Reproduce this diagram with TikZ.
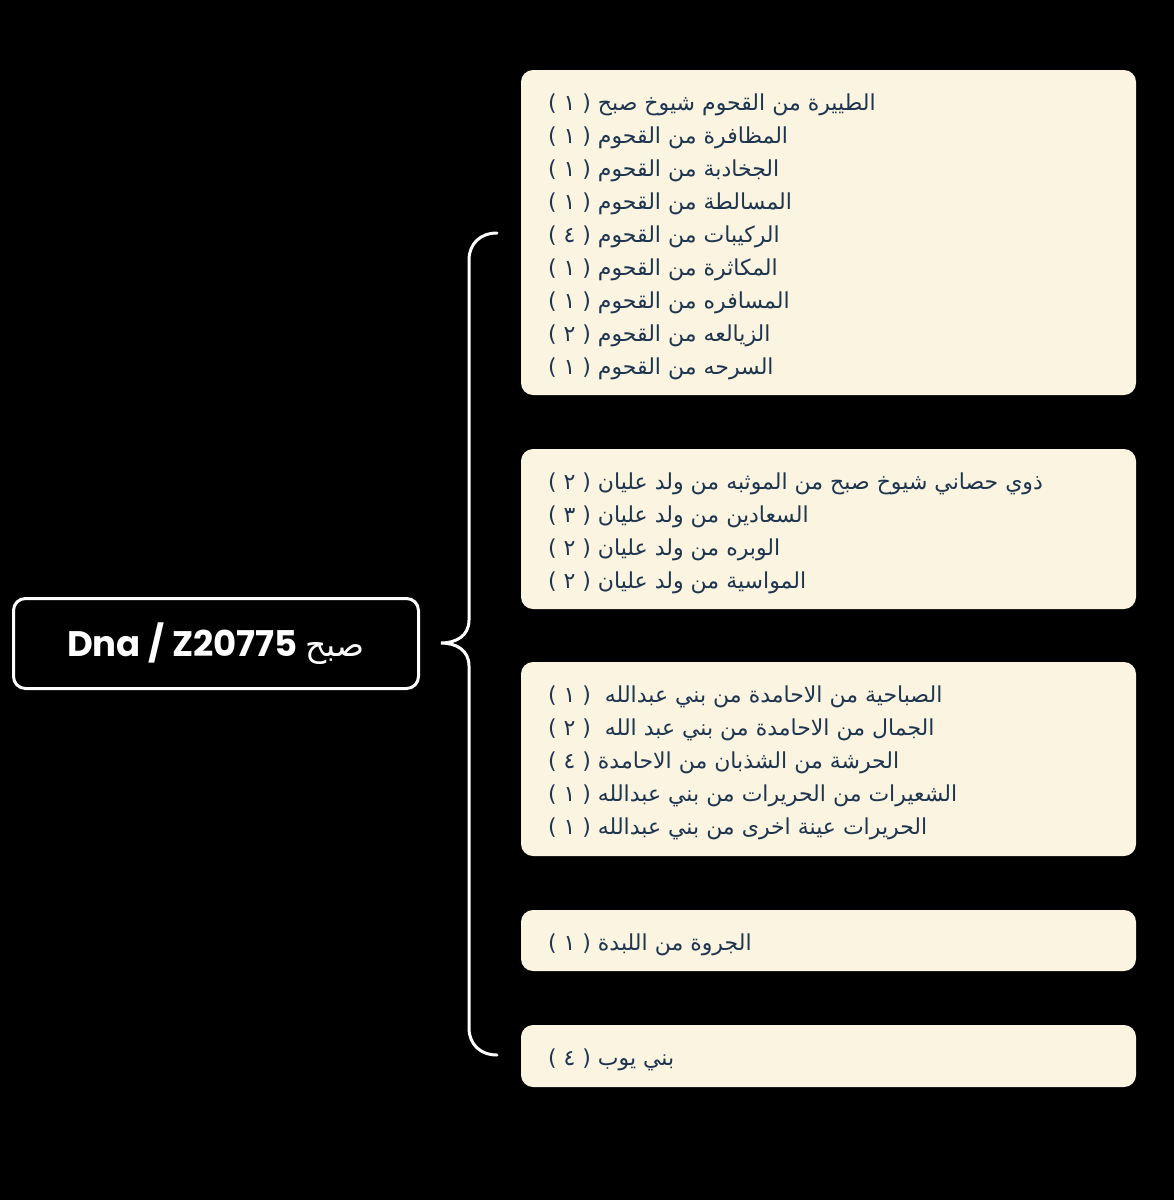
\documentclass[tikz,border=0pt]{standalone}
\usepackage{fontspec}
\TeXXeTstate=1
\newfontfamily\arabicfont[Script=Arabic]{DejaVu Sans}
\newfontfamily\popfont{Poppins}
\definecolor{boxcream}{HTML}{FAF4E0}
\definecolor{navy}{HTML}{1E3550}
\newcommand{\rl}[1]{\beginR #1\endR}
\begin{document}
\begin{tikzpicture}[x=1pt,y=-1pt,
  cbox/.style={fill=boxcream, rounded corners=12pt, minimum width=615pt, inner sep=0pt},
  txt/.style={anchor=west, inner sep=0pt, align=left, text=navy,
    font=\arabicfont\fontsize{22}{33}\selectfont},
  mainbox/.style={draw=white, line width=3pt, rounded corners=12pt,
    minimum width=405pt, minimum height=90pt, text=white, inner sep=0pt},
  bracestyle/.style={draw=white, line width=3pt, line cap=round}]
\fill[black] (0,0) rectangle (1174,1200);
\useasboundingbox (0,0) rectangle (1174,1200);

\node[mainbox] (root) at (216,643.5)
  {{\popfont\bfseries\fontsize{35.5}{40}\selectfont Dna / Z20775}\hspace{8pt}{\arabicfont\fontsize{33}{40}\selectfont\rl{صبح}}};

\node[cbox, minimum height=325pt] (b1) at (828.5,232.5) {};
\node[cbox, minimum height=160pt] (b2) at (828.5,529) {};
\node[cbox, minimum height=194pt] (b3) at (828.5,759) {};
\node[cbox, minimum height=61pt] (b4) at (828.5,940.5) {};
\node[cbox, minimum height=62pt] (b5) at (828.5,1056) {};

\node[txt] (t1) at ([xshift=27pt,yshift=-4pt]b1.west) {%
\rl{الطييرة من القحوم شيوخ صبح ( ١ )}\\
\rl{المظافرة من القحوم ( ١ )}\\
\rl{الجخادبة من القحوم ( ١ )}\\
\rl{المسالطة من القحوم ( ١ )}\\
\rl{الركيبات من القحوم ( ٤ )}\\
\rl{المكاثرة من القحوم ( ١ )}\\
\rl{المسافره من القحوم ( ١ )}\\
\rl{الزيالعه من القحوم ( ٢ )}\\
\rl{السرحه من القحوم ( ١ )}};

\node[txt] (t2) at ([xshift=27pt,yshift=-4pt]b2.west) {%
\rl{ذوي حصاني شيوخ صبح من الموثبه من ولد عليان ( ٢ )}\\
\rl{السعادين من ولد عليان ( ٣ )}\\
\rl{الوبره من ولد عليان ( ٢ )}\\
\rl{المواسية من ولد عليان ( ٢ )}};

\node[txt] (t3) at ([xshift=27pt,yshift=-4pt]b3.west) {%
\rl{الصباحية من الاحامدة من بني عبدالله \ ( ١ )}\\
\rl{الجمال من الاحامدة من بني عبد الله \ ( ٢ )}\\
\rl{الحرشة من الشذبان من الاحامدة ( ٤ )}\\
\rl{الشعيرات من الحريرات من بني عبدالله ( ١ )}\\
\rl{الحريرات عينة اخرى من بني عبدالله ( ١ )}};

\node[txt] (t4) at ([xshift=27pt,yshift=-4pt]b4.west) {\rl{الجروة من اللبدة ( ١ )}};
\node[txt] (t5) at ([xshift=27pt,yshift=-4pt]b5.west) {\rl{بني يوب ( ٤ )}};

\coordinate (btop) at (497,233);
\coordinate (btip) at (441,643);
\coordinate (bbot) at (497,1055);
\draw[bracestyle] (btop) .. controls (480,233) and (469,244) .. (469,260)
  -- (469,620) .. controls (469,636) and (456,643) .. (btip)
  .. controls (456,643) and (469,650) .. (469,666)
  -- (469,1028) .. controls (469,1044) and (480,1055) .. (bbot);
\end{tikzpicture}
\end{document}
